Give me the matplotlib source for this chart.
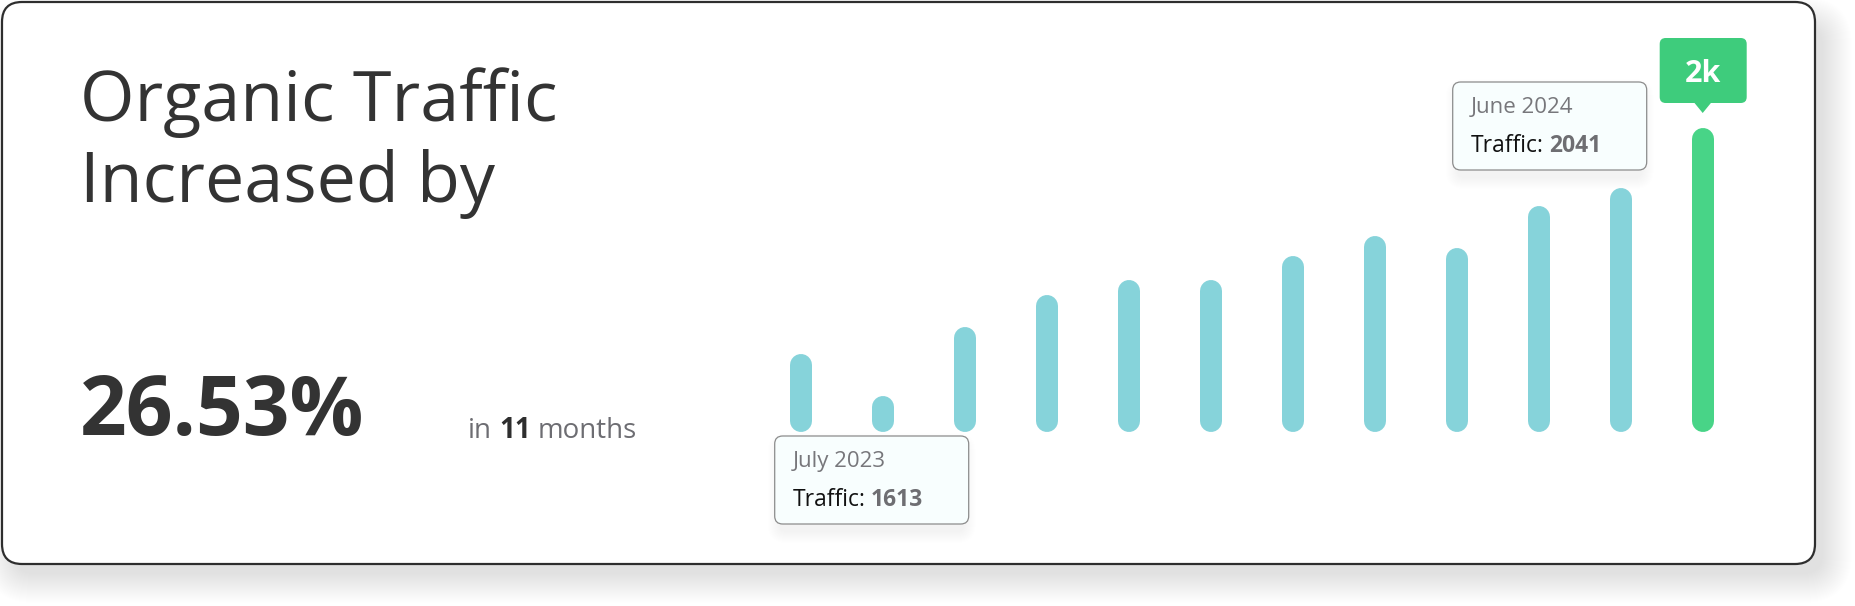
import numpy as np
import matplotlib.pyplot as plt
from matplotlib.patches import FancyBboxPatch, Polygon

# monthly organic traffic, July 2023 -> June 2024
months = ["July 2023", "August 2023", "September 2023", "October 2023",
          "November 2023", "December 2023", "January 2024", "February 2024",
          "March 2024", "April 2024", "May 2024", "June 2024"]
traffic = [1613, 1534, 1664, 1725, 1753, 1753, 1799, 1836, 1814, 1893, 1927, 2041]

growth = (traffic[-1] - traffic[0]) / traffic[0] * 100   # 26.53
n_months = len(traffic) - 1                                # 11

W, H = 1856, 606
plt.rcParams['font.family'] = ['Open Sans', 'DejaVu Sans']

fig = plt.figure(figsize=(W / 100, H / 100), dpi=100)
fig.patch.set_facecolor('white')

# background layer in pixel coords (y down)
bg = fig.add_axes([0, 0, 1, 1])
bg.set_xlim(0, W)
bg.set_ylim(H, 0)
bg.axis('off')

# soft card shadow
for k in range(30):
    bg.add_patch(FancyBboxPatch((14 - k, 26 - k), 1809 + 2 * k, 548 + 2 * k,
                                boxstyle=f'round,pad=0,rounding_size={20 + k}',
                                fc='black', ec='none', alpha=0.0024))

# card
bg.add_patch(FancyBboxPatch((2, 2), 1813, 562, boxstyle='round,pad=0,rounding_size=20',
                            fc='white', ec='#2e2e2e', lw=1.6))

# headline text
bg.text(80, 121, "Organic Traffic", fontsize=50.5, color='#333333')
bg.text(80, 202, "Increased by", fontsize=50.5, color='#333333')
bg.text(80, 435, f"{growth:.2f}%", fontsize=59, fontweight='bold', color='#333333')

t_in = bg.text(468, 438, "in", fontsize=20, color='#6d6d72')
t_n = bg.annotate(str(n_months), xy=(1, 0), xycoords=t_in, xytext=(5, 0),
                  textcoords='offset points', fontsize=20, fontweight='bold',
                  color='#2e2e2e', va='bottom')
bg.annotate("months", xy=(1, 0), xycoords=t_n, xytext=(5, 0),
            textcoords='offset points', fontsize=20, color='#6d6d72', va='bottom')

# bar chart
x0_px, step_px = 800.7, 82.0
base_px, top_px = 432, 100
px_per_unit = 0.528
y_lo = 1465
bar_w = 22

ax = fig.add_axes([(x0_px - step_px / 2) / W, (H - base_px) / H,
                   12 * step_px / W, (base_px - top_px) / H])
ax.set_xlim(-0.5, 11.5)
ax.set_ylim(y_lo, y_lo + (base_px - top_px) / px_per_unit)
ax.axis('off')

x = np.arange(len(traffic))
r_u = (bar_w / 2) / px_per_unit
colors = ['#86d3da'] * (len(traffic) - 1) + ['#48d487']
ax.vlines(x, y_lo + r_u, np.array(traffic) - r_u, colors=colors,
          linewidth=bar_w * 0.72, capstyle='round')


def to_px(i):
    px, py = ax.transData.transform((x[i], traffic[i]))
    return px, H - py


def tooltip(left, top, w, h, title, value):
    for k in range(12):
        bg.add_patch(FancyBboxPatch((left + 4 - k, top + 8 - k), w - 8 + 2 * k, h + 2 * k,
                                    boxstyle=f'round,pad=0,rounding_size={8 + k}',
                                    fc='black', ec='none', alpha=0.005))
    bg.add_patch(FancyBboxPatch((left, top), w, h, boxstyle='round,pad=0,rounding_size=8',
                                fc='#f8fefe', ec='#8c8c8c', lw=0.9))
    bg.text(left + 18, top + 31, title, fontsize=16, color='#77777b')
    t = bg.text(left + 18, top + 70, "Traffic:", fontsize=16.5, color='#111111')
    bg.annotate(str(value), xy=(1, 0), xycoords=t, xytext=(4, 0),
                textcoords='offset points', fontsize=16.5, fontweight='bold',
                color='#6e6e72', va='bottom')


bx0, _ = to_px(0)
tooltip(bx0 - 26, 436, 194, 88, months[0], traffic[0])
bx_last, by_last = to_px(len(traffic) - 1)
tooltip(bx_last - 250, 82, 194, 88, months[-1], traffic[-1])

# value badge over the last bar
bg.add_patch(FancyBboxPatch((bx_last - 43, 38), 87, 65, boxstyle='round,pad=0,rounding_size=6',
                            fc='#3ecc7c', ec='none'))
bg.add_patch(Polygon([(bx_last - 9, 102), (bx_last + 9, 102), (bx_last, 113)],
                     closed=True, fc='#3ecc7c', ec='none'))
bg.text(bx_last, 82, f"{traffic[-1] / 1000:.0f}k", fontsize=22, fontweight='bold',
        color='white', ha='center')

fig.savefig('out.png', dpi=100, facecolor='white')
